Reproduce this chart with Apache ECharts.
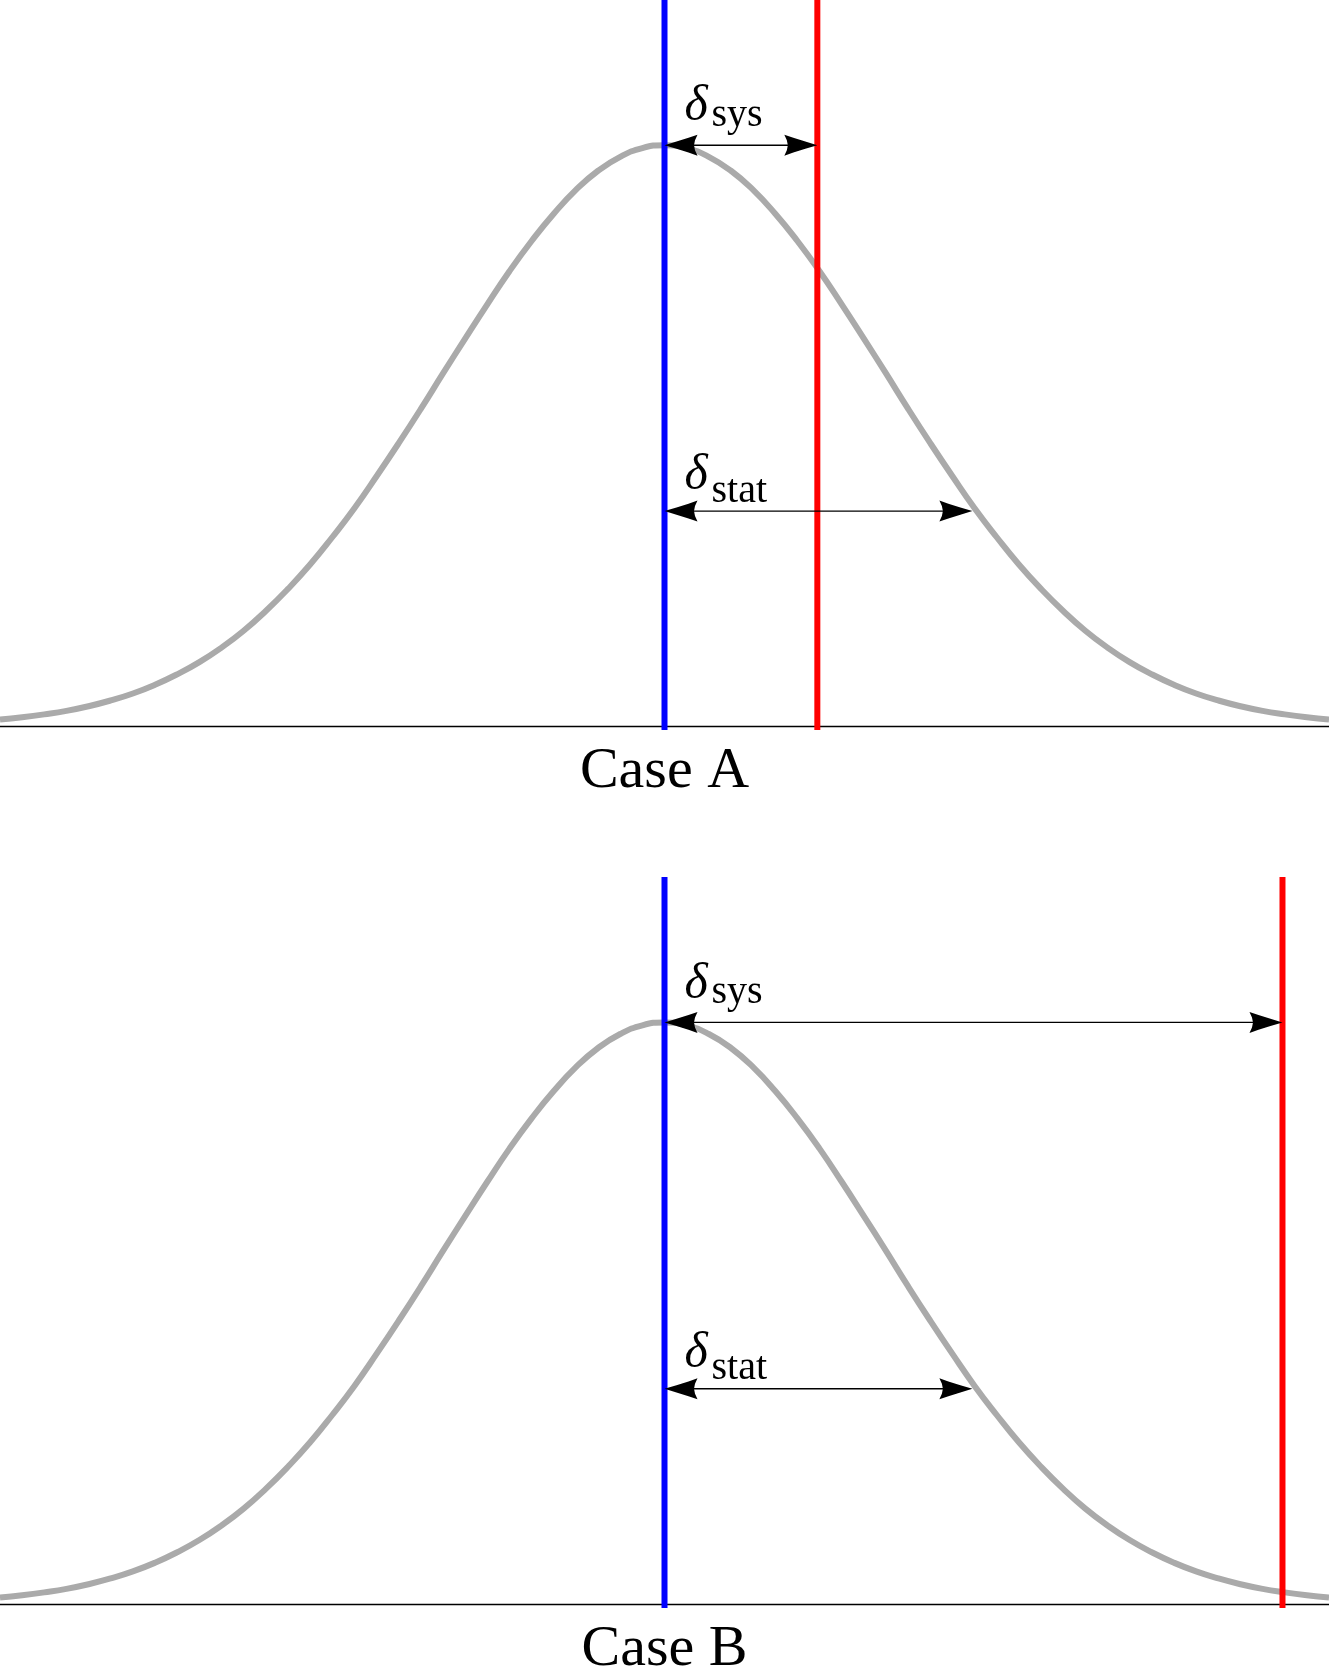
<!DOCTYPE html>
<html lang="en">
<head>
<meta charset="UTF-8">
<title>Case A / Case B</title>
<script src="https://cdn.jsdelivr.net/npm/echarts@6/dist/echarts.min.js"></script>
<style>
  html, body { margin: 0; padding: 0; background: #fff; }
  #chart { width: 1329px; height: 1669px; }
</style>
</head>
<body>
<div id="chart"></div>
<script>
// curve (x in units of the width, y relative to the peak)
var curveX = [-3, -2.9, -2.8, -2.7, -2.6, -2.5, -2.4, -2.3, -2.2, -2.1, -2, -1.9, -1.8, -1.7, -1.6, -1.5,
              -1.4, -1.3, -1.2, -1.1, -1, -0.9, -0.8, -0.7, -0.6, -0.5, -0.4, -0.3, -0.2, -0.1,
              0, 0.1, 0.2, 0.3, 0.4, 0.5, 0.6, 0.7, 0.8, 0.9, 1, 1.1, 1.2, 1.3, 1.4, 1.5,
              1.6, 1.7, 1.8, 1.9, 2, 2.1, 2.2, 2.3, 2.4, 2.5, 2.6, 2.7, 2.8, 2.9, 3];
var curveY = [0.011, 0.015, 0.020, 0.026, 0.034, 0.044, 0.056, 0.071, 0.089, 0.110, 0.135, 0.164, 0.198, 0.236, 0.278, 0.325,
              0.375, 0.430, 0.487, 0.546, 0.607, 0.667, 0.726, 0.783, 0.835, 0.882, 0.923, 0.956, 0.980, 0.995,
              1, 0.995, 0.980, 0.956, 0.923, 0.882, 0.835, 0.783, 0.726, 0.667, 0.607, 0.546, 0.487, 0.430, 0.375, 0.325,
              0.278, 0.236, 0.198, 0.164, 0.135, 0.110, 0.089, 0.071, 0.056, 0.044, 0.034, 0.026, 0.020, 0.015, 0.011];

var caseNames = ['Case A', 'Case B'];
var centre = 0;              // blue line
var sysShift = [0.69, 2.79]; // red line per case
var statEnd = 1.39;          // right end of the stat arrow
var peakLevel = 1.0;         // height of the sys arrow
var statLevel = 0.37;        // height of the stat arrow
var lineTop = 1.25, lineBottom = -0.007;

var labelStyle = [
  // sys label, stat label: offsets in px from the arrow's left end
  { sub: 'sys',  dDy: -38, sDy: -30 },
  { sub: 'stat', dDy: -35, sDy: -20 }
];

function head(tx, ty, dir) {
  var pts = [[0, 0], [12, 3.6], [24, 7.4], [33, 10.5], [30.5, 5], [29.5, 0], [30.5, -5], [33, -10.5], [24, -7.4], [12, -3.6]];
  return pts.map(function (p) { return [tx - dir * p[0], ty + p[1]]; });
}

function renderArrow(params, api) {
  var a = api.coord([api.value(0), api.value(2)]);
  var b = api.coord([api.value(1), api.value(2)]);
  var ls = labelStyle[api.value(3)];
  return {
    type: 'group',
    children: [
      { type: 'line', shape: { x1: a[0] + 20, y1: a[1], x2: b[0] - 20, y2: b[1] },
        style: { stroke: '#000', lineWidth: 1.4 } },
      { type: 'polygon', shape: { points: head(a[0], a[1], -1) }, style: { fill: '#000' } },
      { type: 'polygon', shape: { points: head(b[0], b[1], 1) }, style: { fill: '#000' } },
      { type: 'text', x: a[0] + 20, y: a[1] + ls.dDy,
        style: { text: 'δ', font: 'italic 50px "Liberation Serif"', fill: '#000', align: 'left', verticalAlign: 'middle' } },
      { type: 'text', x: a[0] + 47, y: a[1] + ls.sDy,
        style: { text: ls.sub, font: '40px "Liberation Serif"', fill: '#000', align: 'left', verticalAlign: 'middle' } }
    ]
  };
}

var chart = echarts.init(document.getElementById('chart'));
var grids = [], xAxes = [], yAxes = [], series = [];
var curveData = curveX.map(function (x, i) { return [x, curveY[i]]; });

caseNames.forEach(function (name, i) {
  grids.push({ left: 0, right: 0, top: i === 0 ? 0 : 877, height: i === 0 ? 726 : 727,
               containLabel: false, outerBoundsMode: 'none' });
  xAxes.push({
    gridIndex: i, type: 'value', min: -3, max: 3,
    axisLine: { show: true, lineStyle: { color: '#000', width: 1.3 } },
    axisTick: { show: false }, axisLabel: { show: false }, splitLine: { show: false },
    name: name, nameLocation: 'middle', nameGap: 17,
    nameTextStyle: { fontSize: 58, fontFamily: 'Liberation Serif', color: '#000' }
  });
  yAxes.push({ gridIndex: i, type: 'value', min: 0, max: lineTop, show: false });

  series.push({
    type: 'line', xAxisIndex: i, yAxisIndex: i, data: curveData, smooth: true,
    showSymbol: false, silent: true, z: 1,
    lineStyle: { color: '#aaaaaa', width: 6 }
  });
  series.push({
    type: 'line', xAxisIndex: i, yAxisIndex: i, clip: false, showSymbol: false, silent: true, z: 2,
    data: [[centre, lineBottom], [centre, lineTop]],
    lineStyle: { color: '#0000ff', width: 6 }
  });
  series.push({
    type: 'line', xAxisIndex: i, yAxisIndex: i, clip: false, showSymbol: false, silent: true, z: 2,
    data: [[sysShift[i], lineBottom], [sysShift[i], lineTop]],
    lineStyle: { color: '#ff0000', width: 6 }
  });
  series.push({
    type: 'custom', xAxisIndex: i, yAxisIndex: i, silent: true, z: 3,
    renderItem: renderArrow,
    data: [[centre, sysShift[i], peakLevel, 0], [centre, statEnd, statLevel, 1]]
  });
});

chart.setOption({
  animation: false,
  backgroundColor: '#fff',
  grid: grids,
  xAxis: xAxes,
  yAxis: yAxes,
  series: series
});
</script>
</body>
</html>
